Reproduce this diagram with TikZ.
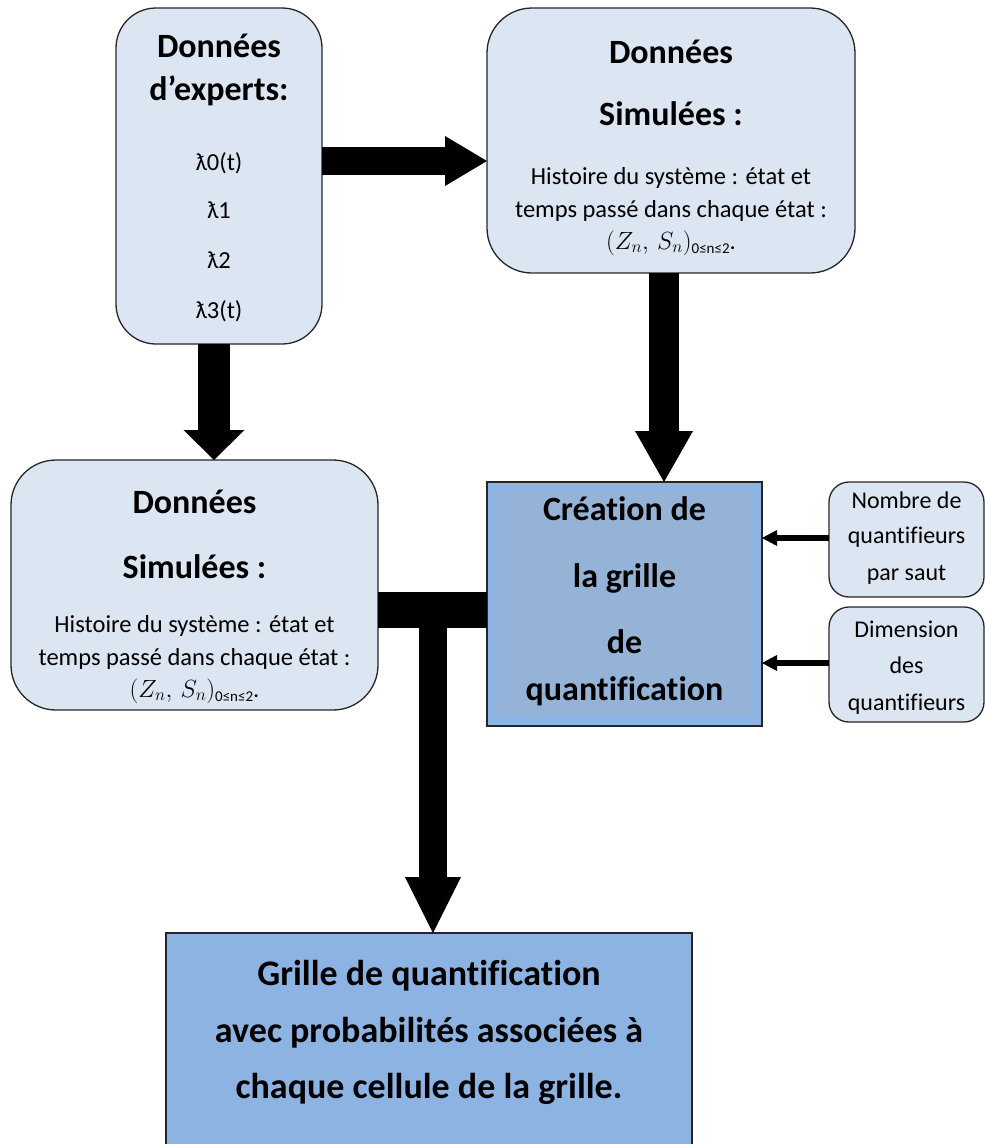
\documentclass[tikz,border=0pt]{standalone}
\usepackage{fontspec}
\setmainfont{Carlito}[Ligatures=NoCommon]
\usetikzlibrary{calc}
\definecolor{lightfill}{HTML}{DCE6F2}
\definecolor{midfill}{HTML}{95B3D7}
\definecolor{bandfill}{HTML}{8EB4E3}
\definecolor{bigfill}{HTML}{8DB3E2}
\definecolor{edge}{HTML}{262626}
\newcommand\zs{$(Z_n,\,S_n)$\raisebox{-4pt}{\fontsize{15}{15}\selectfont 0≤n≤2}.}
\begin{document}
\begin{tikzpicture}[x=1pt,y=-1pt,
  lbox/.style={draw=edge, line width=1.3pt, fill=lightfill, inner sep=0pt, outer sep=0pt, anchor=north west},
  dbox/.style={draw=edge, line width=1.3pt, fill=bandfill, inner sep=0pt, outer sep=0pt, anchor=north west},
  gbox/.style={draw=edge, line width=1.3pt, fill=bigfill, inner sep=0pt, outer sep=0pt, anchor=north west},
  bigtxt/.style={font=\bfseries\fontsize{34}{40}\selectfont, anchor=base, inner sep=0pt},
  hugetxt/.style={font=\bfseries\fontsize{36}{42}\selectfont, anchor=base, inner sep=0pt},
  smalltxt/.style={font=\fontsize{24.5}{29}\selectfont, anchor=base, inner sep=0pt},
  sidetxt/.style={font=\fontsize{24}{28}\selectfont, anchor=base, inner sep=0pt}]
\useasboundingbox (0,0) rectangle (985,1144);

% boxes
\node[lbox, rounded corners=40pt, minimum width=206pt, minimum height=336pt] (A) at (116,8) {};
\node[lbox, rounded corners=45pt, minimum width=368pt, minimum height=265pt] (B) at (487,8) {};
\node[lbox, rounded corners=45pt, minimum width=367pt, minimum height=250pt] (C) at (11,460) {};
\node[dbox, minimum width=275pt, minimum height=244pt] (D) at (487,482) {};
\fill[midfill] ($(D.north west)+(10,10)$) rectangle ($(D.south east)+(-10,-10)$);
\node[lbox, rounded corners=20pt, minimum width=155pt, minimum height=115pt] (E) at (829,482) {};
\node[lbox, rounded corners=20pt, minimum width=155pt, minimum height=115pt] (F) at (829,607) {};
\node[gbox, minimum width=526pt, minimum height=230pt] (G) at (166,933) {};

% texts A
\node[bigtxt] (a1) at (219,57) {Données};
\node[bigtxt] (a2) at (219,100) {d’experts:};
\node[smalltxt] (a3) at (219,170) {ƛ0(t)};
\node[smalltxt] (a4) at (219,218) {ƛ1};
\node[smalltxt] (a5) at (219,268) {ƛ2};
\node[smalltxt] (a6) at (219,318) {ƛ3(t)};
% texts B
\node[bigtxt] (b1) at (671,63) {Données};
\node[bigtxt] (b2) at (671,125) {Simulées :};
\node[smalltxt] (b3) at (671,184) {Histoire du système : état et};
\node[smalltxt] (b4) at (671,217) {temps passé dans chaque état :};
\node[smalltxt] (b5) at (671,249) {\zs};
% texts C
\node[bigtxt] (c1) at (194.5,513) {Données};
\node[bigtxt] (c2) at (194.5,578) {Simulées :};
\node[smalltxt] (c3) at (194.5,632) {Histoire du système : état et};
\node[smalltxt] (c4) at (194.5,665) {temps passé dans chaque état :};
\node[smalltxt] (c5) at (194.5,697) {\zs};
% texts D
\node[bigtxt] (d1) at (624.5,520) {Création de};
\node[bigtxt] (d2) at (624.5,587) {la grille};
\node[bigtxt] (d3) at (624.5,653) {de};
\node[bigtxt] (d4) at (624.5,700) {quantification};
% texts E, F
\node[sidetxt] (e1) at (906.5,508) {Nombre de};
\node[sidetxt] (e2) at (906.5,543) {quantifieurs};
\node[sidetxt] (e3) at (906.5,580) {par saut};
\node[sidetxt] (f1) at (906.5,637) {Dimension};
\node[sidetxt] (f2) at (906.5,673) {des};
\node[sidetxt] (f3) at (906.5,710) {quantifieurs};
% texts G
\node[hugetxt] (g1) at (429,985) {Grille de quantification};
\node[hugetxt] (g2) at (429,1042) {avec probabilités associées à};
\node[hugetxt] (g3) at (429,1098) {chaque cellule de la grille.};

% block arrows
\coordinate (yAB) at (0,161);
\draw[line width=28pt] (A.east |- yAB) -- ($(B.west |- yAB)+(-42,0)$);
\fill ($(B.west |- yAB)+(-42,-25)$) -- (B.west |- yAB) -- ($(B.west |- yAB)+(-42,25)$) -- cycle;

\coordinate (xAC) at (214,0);
\draw[line width=32pt] (xAC |- A.south) -- ($(xAC |- C.north)+(0,-30)$);
\fill ($(xAC |- C.north)+(-30.5,-30)$) -- (xAC |- C.north) -- ($(xAC |- C.north)+(30.5,-30)$) -- cycle;

\coordinate (xBD) at (664,0);
\draw[line width=30pt] (xBD |- B.south) -- ($(xBD |- D.north)+(0,-51)$);
\fill ($(xBD |- D.north)+(-29,-51)$) -- (xBD |- D.north) -- ($(xBD |- D.north)+(29,-51)$) -- cycle;

\coordinate (yCD) at (0,610);
\draw[line width=36pt] (C.east |- yCD) -- (D.west |- yCD);
\coordinate (xT) at (433,0);
\draw[line width=28pt] (xT |- yCD) -- ($(xT |- G.north)+(0,-56)$);
\fill ($(xT |- G.north)+(-28,-56)$) -- (xT |- G.north) -- ($(xT |- G.north)+(28,-56)$) -- cycle;

% thin arrows
\coordinate (yE) at (0,538);
\draw[line width=6pt] (E.west |- yE) -- ($(D.east |- yE)+(15,0)$);
\fill ($(D.east |- yE)+(15,-8)$) -- (D.east |- yE) -- ($(D.east |- yE)+(15,8)$) -- cycle;
\coordinate (yF) at (0,663);
\draw[line width=6pt] (F.west |- yF) -- ($(D.east |- yF)+(15,0)$);
\fill ($(D.east |- yF)+(15,-8)$) -- (D.east |- yF) -- ($(D.east |- yF)+(15,8)$) -- cycle;
\end{tikzpicture}
\end{document}
